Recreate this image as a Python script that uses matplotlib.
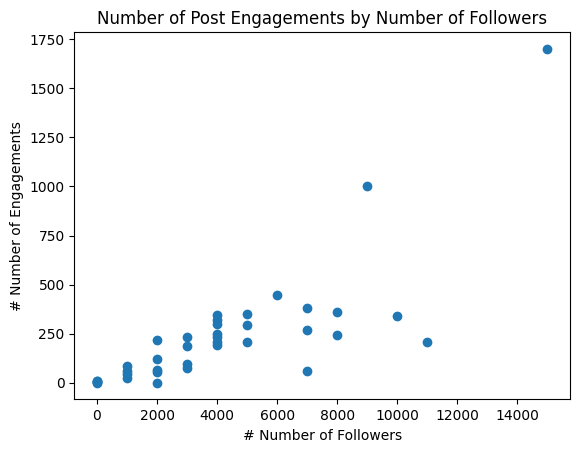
import matplotlib
matplotlib.use("Agg")
from matplotlib import pyplot as plt

# followers vs engagements
followers = [0, 0, 0, 0, 0,
             1000, 1000, 1000, 1000,
             2000, 2000, 2000, 2000, 2000,
             3000, 3000, 3000, 3000,
             4000, 4000, 4000, 4000, 4000, 4000, 4000,
             5000, 5000, 5000,
             6000,
             7000, 7000, 7000,
             8000, 8000,
             9000,
             10000,
             11000,
             15000]
engagements = [0, 2, 4, 6, 8,
               85, 60, 45, 22,
               218, 120, 64, 55, 0,
               233, 186, 97, 76,
               345, 318, 300, 250, 235, 208, 192,
               349, 292, 206,
               449,
               378, 267, 59,
               358, 241,
               1000,
               342,
               206,
               1700]

fig = plt.figure(figsize=(5.8, 4.55), dpi=100)
plt.subplots_adjust(left=0.1284, right=0.9828, top=0.9286, bottom=0.1224)
plt.scatter(followers, engagements)
plt.title("Number of Post Engagements by Number of Followers")
plt.xlabel("# Number of Followers")
plt.ylabel("# Number of Engagements")
plt.savefig("out.png", dpi=100)
